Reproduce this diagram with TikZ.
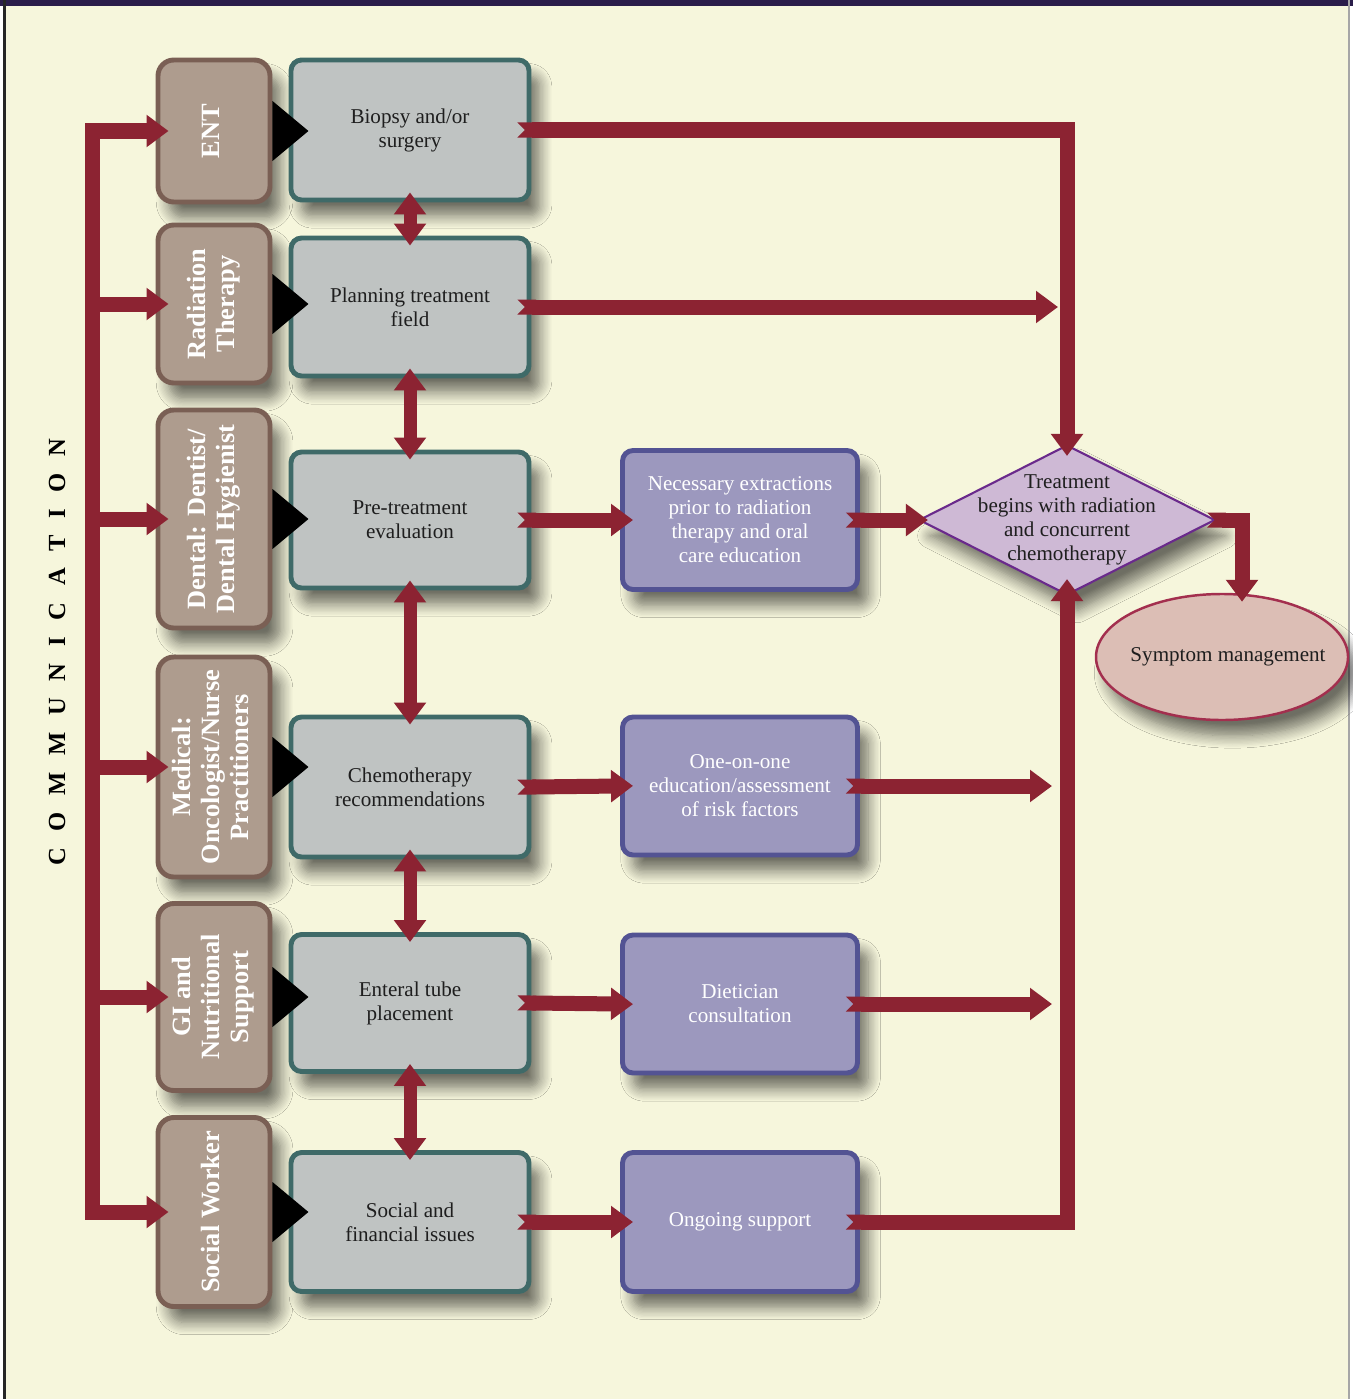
\documentclass[tikz,border=0pt]{standalone}
\usepackage{fontspec}
\setmainfont{Liberation Serif}
\usepackage{graphicx}
\usepackage{tikz}
\usetikzlibrary{shapes.geometric,arrows.meta,shadows.blur}
\definecolor{linkred}{HTML}{8C2332}
\definecolor{rolefill}{HTML}{AE9C8E}
\definecolor{rolebd}{HTML}{7A5F54}
\definecolor{stagefill}{HTML}{BFC3C2}
\definecolor{stagebd}{HTML}{3F6A68}
\definecolor{servfill}{HTML}{9C98BE}
\definecolor{servbd}{HTML}{535393}
\definecolor{diafill}{HTML}{CEB9D5}
\definecolor{diabd}{HTML}{6A2A8C}
\definecolor{ellfill}{HTML}{DCBEB5}
\definecolor{ellbd}{HTML}{A32F4E}
\definecolor{textdark}{HTML}{1E1E1E}
\definecolor{paper}{HTML}{F6F6DC}
\definecolor{paperedge}{HTML}{FCFCF4}
\definecolor{frametop}{HTML}{2A1D4A}
\definecolor{shadowcol}{HTML}{3C3C1E}
\pgfdeclareradialshading{paper}{\pgfpoint{0bp}{0bp}}{color(0bp)=(paper); color(41bp)=(paper); color(50bp)=(paperedge); color(100bp)=(paperedge)}
\newcommand{\vtext}[1]{\rotatebox{90}{\begin{tabular}{@{}c@{}}#1\end{tabular}}}
\newcommand{\lsp}{\hspace{9.5pt}}
\tikzset{boxshadow/.style={blur shadow={shadow xshift=6pt,shadow yshift=-9pt,shadow blur radius=7pt,shadow opacity=55,shadow blur steps=10}}}
\tikzset{role/.style={rectangle,draw=rolebd,fill=rolefill,line width=2.8pt,rounded corners=9pt,minimum width=2.24cm,inner sep=0pt,text=white,font=\bfseries\fontsize{15}{16.5}\selectfont,boxshadow}}
\tikzset{stage/.style={rectangle,draw=stagebd,fill=stagefill,line width=2.8pt,rounded corners=6pt,minimum width=4.76cm,minimum height=2.76cm,align=center,text=textdark,font=\fontsize{12}{13.7}\selectfont,boxshadow}}
\tikzset{service/.style={stage,draw=servbd,fill=servfill,minimum width=4.7cm,text=white}}
\tikzset{decision/.style={diamond,draw=diabd,fill=diafill,line width=1.2pt,minimum width=5.92cm,minimum height=3cm,inner sep=0pt,boxshadow}}
\tikzset{outcome/.style={ellipse,draw=ellbd,fill=ellfill,line width=1.4pt,minimum width=5.04cm,minimum height=2.52cm,inner sep=0pt,boxshadow}}
\tikzset{bus/.style={draw=linkred,line width=0.3cm,->,shorten >=-0.26cm}}
\tikzset{pair/.style={draw=linkred,line width=0.26cm,<->,shorten <=-0.2cm,shorten >=-0.2cm}}
\tikzset{flow/.style={draw=linkred,line width=0.3cm,{Triangle Cap[reversed]}-{Triangle[length=0.44cm,width=0.62cm]},shorten <=-0.28cm}}

\begin{document}
\begin{tikzpicture}[x=0.2mm,y=-0.2mm,>={Triangle[length=0.44cm,width=0.62cm]}]
    \useasboundingbox (0,0) rectangle (1353,1399);
    \fill[white] (0,0) rectangle (1353,1399);
    \shade[shading=paper] (6,6) rectangle (1348,1399);
    \fill[frametop] (0,0) rectangle (1353,6);
    \fill[black!85] (3,0) rectangle (6,1399);
    \fill[black!35] (1348,0) rectangle (1350,1399);

    \node[rotate=90,font=\bfseries\fontsize{14}{16}\selectfont] (comm) at (57,652) {C\lsp O\lsp M\lsp M\lsp U\lsp N\lsp I\lsp C\lsp A\lsp T\lsp I\lsp O\lsp N};

    \node[role,minimum height=2.84cm] (ent) at (214,131) {\vtext{ENT}};
    \node[role,minimum height=3.16cm] (rad) at (214,304) {\vtext{Radiation\\Therapy}};
    \node[role,minimum height=4.36cm] (den) at (214,519) {\vtext{Dental: Dentist/\\Dental Hygienist}};
    \node[role,minimum height=4.4cm] (med) at (214,767) {\vtext{Medical:\\Oncologist/Nurse\\Practitioners}};
    \node[role,minimum height=3.74cm] (gi) at (214,997) {\vtext{GI and\\Nutritional\\Support}};
    \node[role,minimum height=3.78cm] (soc) at (214,1212) {\vtext{Social Worker}};

    \node[stage,minimum height=2.8cm] (bio) at (410,130) {Biopsy and/or\\surgery};
    \node[stage] (plan) at (410,307) {Planning treatment\\field};
    \node[stage,minimum height=2.72cm] (pre) at (410,520) {Pre-treatment\\evaluation};
    \node[stage,minimum height=2.8cm] (chemo) at (410,787) {Chemotherapy\\recommendations};
    \node[stage,minimum height=2.74cm] (tube) at (410,1003) {Enteral tube\\placement};
    \node[stage,minimum height=2.78cm] (fin) at (410,1222) {Social and\\financial issues};

    \node[service,minimum height=2.78cm] (ext) at (740,520) {Necessary extractions\\prior to radiation\\therapy and oral\\care education};
    \node[service] (edu) at (740,786) {One-on-one\\education/assessment\\of risk factors};
    \node[service] (diet) at (740,1004) {Dietician\\consultation};
    \node[service,minimum height=2.78cm] (supp) at (740,1222) {Ongoing support};

    \node[decision,label={[align=center,text=textdark,font=\fontsize{12}{13.7}\selectfont]center:Treatment\\begins with radiation\\and concurrent\\chemotherapy}] (dia) at (1067,520) {};
    \node[outcome,label={[text=textdark,font=\fontsize{12}{13.7}\selectfont,xshift=0.12cm]center:Symptom management}] (sym) at (1222,657) {};

    \fill (ent.east) -- ++(0,30) -- ++(36,-30) -- ++(-36,-30) -- cycle;
    \fill (rad.east) -- ++(0,30) -- ++(36,-30) -- ++(-36,-30) -- cycle;
    \fill (den.east) -- ++(0,30) -- ++(36,-30) -- ++(-36,-30) -- cycle;
    \fill (med.east) -- ++(0,30) -- ++(36,-30) -- ++(-36,-30) -- cycle;
    \fill (gi.east) -- ++(0,30) -- ++(36,-30) -- ++(-36,-30) -- cycle;
    \fill (soc.east) -- ++(0,30) -- ++(36,-30) -- ++(-36,-30) -- cycle;

    \coordinate (bus) at (92,650);
    \draw[bus,<->,shorten <=-0.26cm] (ent.west) -| (bus) |- (soc.west);
    \draw[bus] (bus |- rad.west) -- (rad.west);
    \draw[bus] (bus |- den.west) -- (den.west);
    \draw[bus] (bus |- med.west) -- (med.west);
    \draw[bus] (bus |- gi.west) -- (gi.west);

    \draw[pair] (bio.south) -- (plan.north);
    \draw[pair] (plan.south) -- (pre.north);
    \draw[pair] (pre.south) -- (chemo.north);
    \draw[pair] (chemo.south) -- (tube.north);
    \draw[pair] (tube.south) -- (fin.north);

    \draw[flow,shorten >=-0.24cm] (bio.east) -| (dia.north);
    \draw[flow,shorten >=0.18cm] (plan.east) -- (plan.east -| dia.north);
    \draw[flow,shorten >=-0.26cm] (pre.east) -- (ext.west);
    \draw[flow,shorten >=-0.26cm] (chemo.east) -- (edu.west);
    \draw[flow,shorten >=-0.26cm] (tube.east) -- (diet.west);
    \draw[flow,shorten >=-0.26cm] (fin.east) -- (supp.west);
    \draw[flow,shorten >=-0.2cm] (ext.east) -- (dia.west);
    \draw[flow,shorten >=0.3cm] (edu.east) -- (edu.east -| dia.south);
    \draw[flow,shorten >=0.3cm] (diet.east) -- (diet.east -| dia.south);
    \draw[flow,shorten >=-0.34cm] (supp.east) -| (dia.south);
    \draw[flow,shorten <=-0.18cm,shorten >=-0.18cm] (dia.east) -| ([xshift=0.4cm]sym.north);
\end{tikzpicture}
\end{document}
